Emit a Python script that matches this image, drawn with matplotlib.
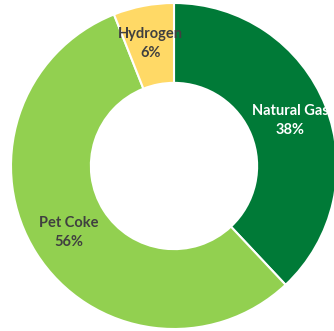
import matplotlib.pyplot as plt
import numpy as np

# Fuel mix shares (clockwise from 12 o'clock)
FUELS = ["Natural Gas", "Pet Coke", "Hydrogen"]
SHARES = [38, 56, 6]
COLORS = ["#007A37", "#92D050", "#FFD966"]
TEXT_COLORS = ["white", "#404040", "#404040"]

fig = plt.figure(figsize=(3.34, 3.31), dpi=100)
ax = fig.add_axes([0, 0, 1, 1])
wedges, _ = ax.pie(SHARES, colors=COLORS, startangle=90, counterclock=False,
                   radius=1.0, wedgeprops=dict(width=0.49, edgecolor="white", linewidth=1.5))

# put name + percentage inside each ring segment
for w, name, share, tc in zip(wedges, FUELS, SHARES, TEXT_COLORS):
    ang = np.deg2rad((w.theta1 + w.theta2) / 2)
    r = 0.765
    ax.text(r * np.cos(ang), r * np.sin(ang), f"{name}\n{share}%", ha="center", va="center",
            color=tc, fontsize=10.5, fontweight="bold", family="Lato", linespacing=1.45)

# center at (174, 166) px, radius 163 px
ax.set_aspect("auto")
ax.set_xlim(-174 / 163, 160 / 163)
ax.set_ylim(-165 / 163, 166 / 163)
ax.axis("off")
fig.savefig("out.png", dpi=100)
